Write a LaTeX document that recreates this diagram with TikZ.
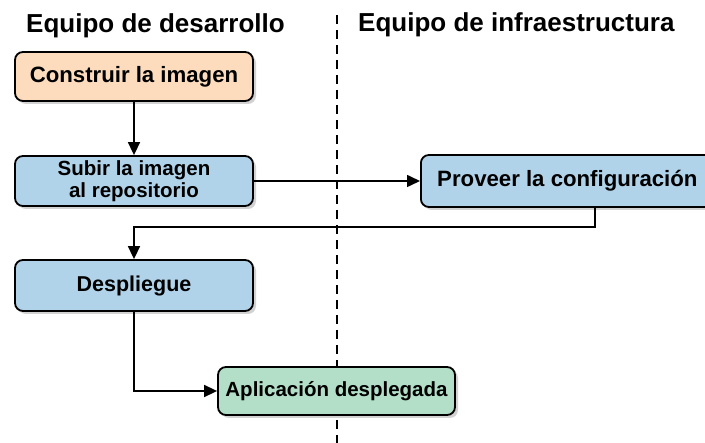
\documentclass[tikz,border=0pt]{standalone}
\usepackage{fontspec}
\setmainfont{Liberation Sans}
\usetikzlibrary{arrows.meta,shadows}
\definecolor{orangefill}{HTML}{FDDCBE}
\definecolor{bluefill}{HTML}{B1D3EA}
\definecolor{greenfill}{HTML}{B3DFC9}
\tikzset{
  box/.style={draw=black, line width=1.8pt, rounded corners=8pt, inner sep=0pt,
    align=center, font=\bfseries\fontsize{22.2}{23}\selectfont,
    drop shadow={shadow xshift=3pt, shadow yshift=-3pt, opacity=0.35}},
  conn/.style={line width=1.6pt, -{Triangle[length=13pt,width=12pt]}},
  title/.style={font=\bfseries\fontsize{26}{30}\selectfont, inner sep=0pt, anchor=base west}
}
\begin{document}
\begin{tikzpicture}[x=1pt,y=-1pt]
\clip (0,0) rectangle (705,443);
\fill[white] (0,0) rectangle (705,443);
\node[title] (t1) at (26,33) {Equipo de desarrollo};
\node[title] (t2) at (358,32) {Equipo de infraestructura};
\draw[line width=2pt, dash pattern=on 9pt off 6pt] (337,15) -- (337,443);
\node[box, fill=orangefill, minimum width=238pt, minimum height=49pt] (b1) at (134,76.5) {Construir la imagen};
\node[box, fill=bluefill, minimum width=238pt, minimum height=50pt, font=\bfseries\fontsize{20.5}{22}\selectfont] (b2) at (134,181) {Subir la imagen\\al repositorio};
\node[box, fill=bluefill, minimum width=293pt, minimum height=52pt, anchor=west] (b3) at (420,181) {Proveer la configuración};
\node[box, fill=bluefill, minimum width=238pt, minimum height=51pt, font=\bfseries\fontsize{21.5}{22}\selectfont] (b4) at (134,285.5) {Despliegue};
\node[box, fill=greenfill, minimum width=237pt, minimum height=48pt, font=\bfseries\fontsize{20.5}{22}\selectfont] (b5) at (336.5,391) {Aplicación desplegada};
\draw[conn] (b1.south) -- (b2.north);
\draw[conn] (b2.east) -- (b3.west);
\coordinate (c1) at (595,227);
\coordinate (c2) at (134,227);
\draw[conn] (b3.south -| c1) -- (c1) -- (c2) -- (b4.north);
\coordinate (c3) at (134,391);
\draw[conn] (b4.south) -- (c3) -- (b5.west);
\end{tikzpicture}
\end{document}
